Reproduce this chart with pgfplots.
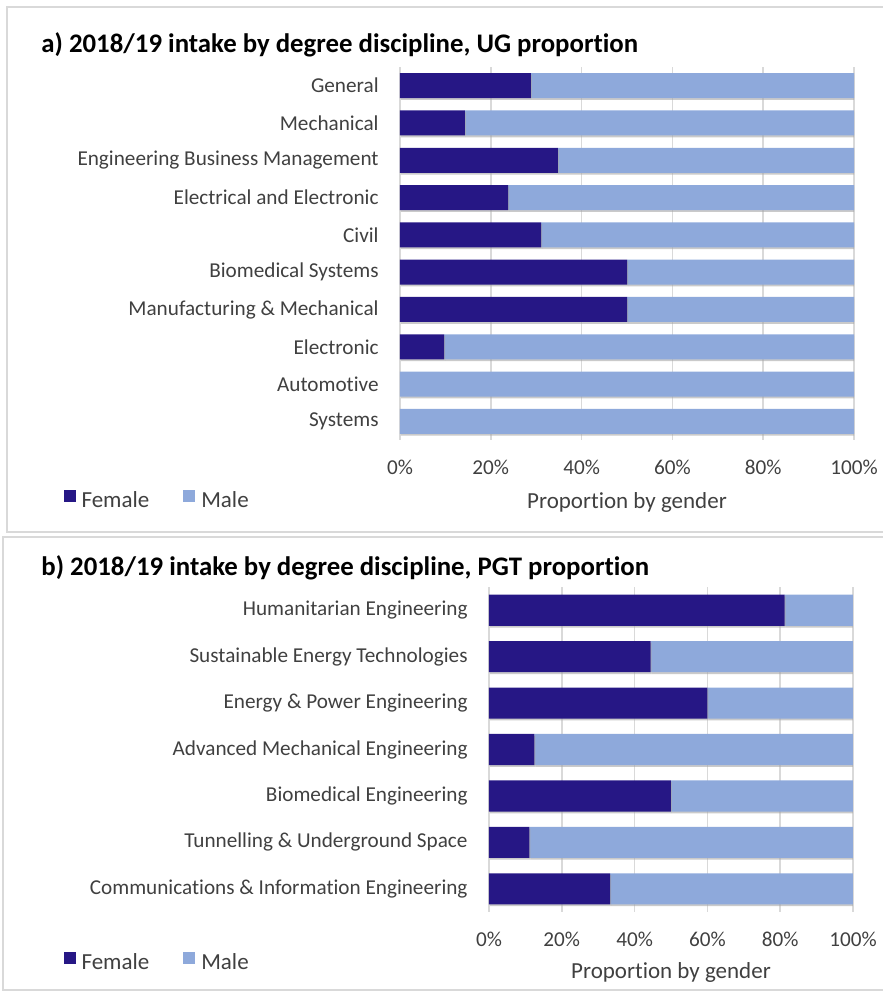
\documentclass[border=0pt]{standalone}
\usepackage{fontspec}
\setmainfont{Carlito}[Ligatures=NoCommon]
\usepackage{pgfplots}
\usepackage{pgfplotstable}
\pgfplotsset{compat=1.18}
\definecolor{fem}{RGB}{38,23,133}
\definecolor{mal}{RGB}{142,169,219}
\definecolor{gridc}{RGB}{217,217,217}
\definecolor{lab}{RGB}{64,64,64}
\definecolor{framec}{RGB}{217,217,217}

\pgfplotstableread{
idx female male
0 28.8 71.2
1 14.3 85.7
2 34.8 65.2
3 23.8 76.2
4 31.1 68.9
5 50 50
6 50 50
7 9.7 90.3
8 0 100
9 0 100
}\dataA

\pgfplotstableread{
idx female male
0 81.25 18.75
1 44.4 55.6
2 60 40
3 12.5 87.5
4 50 50
5 11.1 88.9
6 33.3 66.7
}\dataB

\pgfplotsset{
  panel/.style={
    xbar stacked, scale only axis, y dir=reverse,
    xmin=0, xmax=100, ymin=-0.5,
    bar width=0.67,
    axis line style={draw=none},
    xmajorgrids, grid style={gridc, line width=0.75pt},
    major tick length=0pt,
    xtick={0,20,...,100},
    xticklabels={0\%,20\%,40\%,60\%,80\%,100\%},
    tick label style={font=\fontsize{10.6}{12}\selectfont, text=lab},
    yticklabel style={inner sep=0pt, xshift=-10.5pt},
    xticklabel style={anchor=center, inner sep=0pt, yshift=-13.5pt},
    xlabel={Proportion by gender},
    xlabel style={at={(axis description cs:0.5,0)}, anchor=center, yshift=-31pt,
      font=\fontsize{11.5}{13}\selectfont, text=lab, inner sep=0pt},
    legend columns=2,
    legend cell align=left,
    legend image code/.code={\fill[##1] (0pt,-0.3pt) rectangle (6pt,5.7pt);},
    legend style={draw=none, fill=none, inner sep=0pt, anchor=west,
      font=\fontsize{11.5}{13}\selectfont, text=lab,
      /tikz/every odd column/.append style={column sep=1pt},
      /tikz/every even column/.append style={column sep=15pt}},
  },
  fbar/.style={fill=fem, draw=none,
    preaction={fill=black!35, opacity=0.6, transform canvas={shift={(0.5pt,-0.9pt)}}}},
  mbar/.style={fill=mal, draw=none,
    preaction={fill=black!35, opacity=0.6, transform canvas={shift={(0.5pt,-0.9pt)}}}},
}

\begin{document}
\begin{tikzpicture}
\useasboundingbox (0pt,0pt) rectangle (441.5pt,-496pt);
% frames
\draw[framec, line width=0.75pt] (446pt,-3.5pt) -- (3.5pt,-3.5pt) -- (3.5pt,-266pt) -- (446pt,-266pt);
\draw[framec, line width=0.75pt] (446pt,-268.5pt) -- (1.5pt,-268.5pt) -- (1.5pt,-495pt) -- (446pt,-495pt);
% titles
\node[anchor=west, inner sep=0pt, font=\bfseries\fontsize{13.4}{16}\selectfont] at (20.5pt,-22.5pt)
  {a) 2018/19 intake by degree discipline, UG proportion};
\node[anchor=west, inner sep=0pt, font=\bfseries\fontsize{13.4}{16}\selectfont] at (20.5pt,-284pt)
  {b) 2018/19 intake by degree discipline, PGT proportion};

\begin{axis}[panel,
  at={(200pt,-220pt)}, anchor=south west,
  width=227pt, height=186.5pt,
  ymax=9.5,
  ytick={0,...,9},
  yticklabels={General,Mechanical,Engineering Business Management,Electrical and Electronic,Civil,Biomedical Systems,Manufacturing \& Mechanical,Electronic,Automotive,Systems},
  legend style={at={(-0.742,-0.1635)}},
]
\addlegendimage{fill=fem, draw=none}
\addlegendimage{fill=mal, draw=none}
\addplot[fbar, forget plot] table[x=female,y=idx]{\dataA};
\addplot[mbar, forget plot] table[x=male,y=idx]{\dataA};
\legend{Female,Male}
\end{axis}

\begin{axis}[panel,
  at={(244.5pt,-456pt)}, anchor=south west,
  width=182pt, height=162.5pt,
  ymax=6.5,
  ytick={0,...,6},
  yticklabels={Humanitarian Engineering,Sustainable Energy Technologies,Energy \& Power Engineering,Advanced Mechanical Engineering,Biomedical Engineering,Tunnelling \& Underground Space,Communications \& Information Engineering},
  xlabel style={yshift=1pt},
  legend style={at={(-1.170,-0.157)}},
]
\addlegendimage{fill=fem, draw=none}
\addlegendimage{fill=mal, draw=none}
\addplot[fbar, forget plot] table[x=female,y=idx]{\dataB};
\addplot[mbar, forget plot] table[x=male,y=idx]{\dataB};
\legend{Female,Male}
\end{axis}
\end{tikzpicture}
\end{document}
